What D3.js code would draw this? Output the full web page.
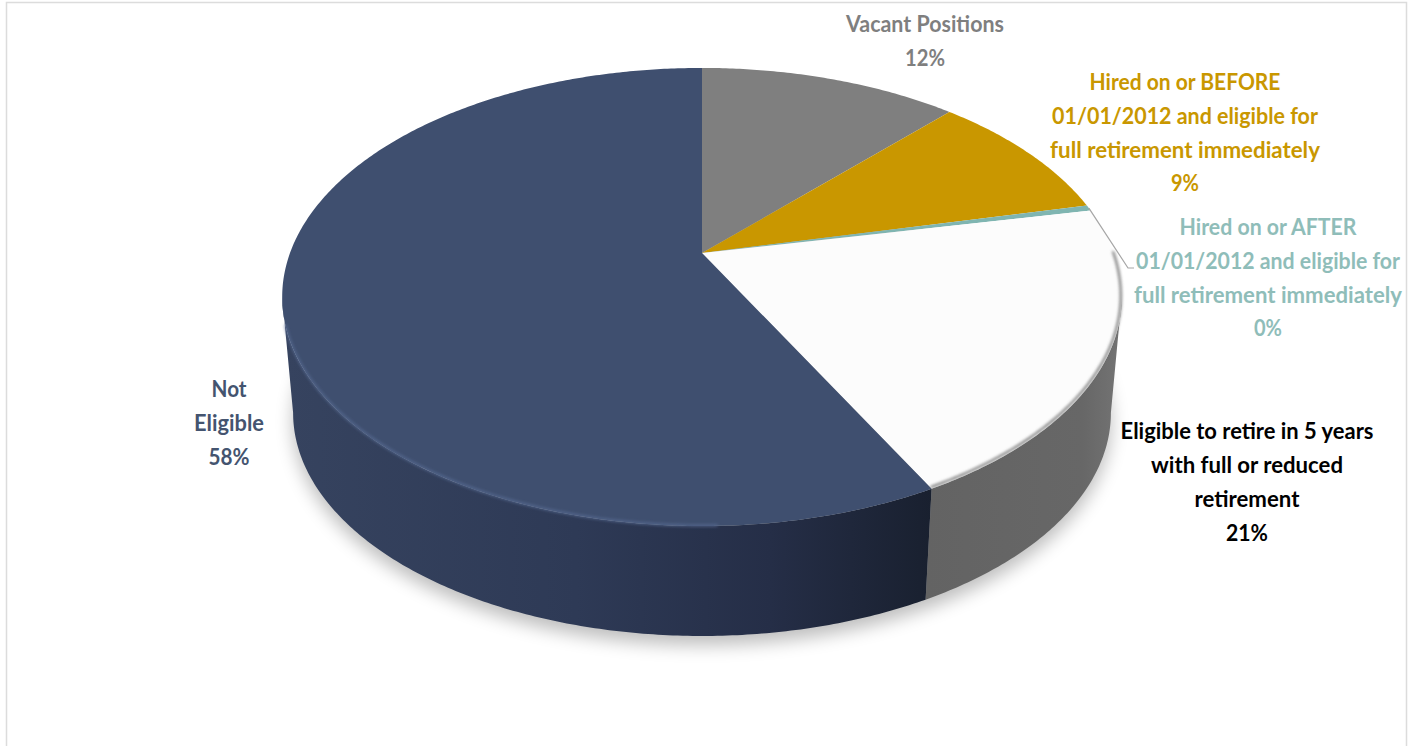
<!DOCTYPE html>
<html>
<head>
<meta charset="utf-8">
<script src="https://cdn.jsdelivr.net/npm/d3@7"></script>
<style>
  html, body { margin: 0; padding: 0; background: #fff; }
  svg { display: block; }
  text { font-family: Lato, "Open Sans", sans-serif; font-weight: 700; }
</style>
</head>
<body>
<svg id="chart" width="1413" height="746"></svg>
<script>
// Workforce retirement eligibility, as percentage shares clockwise from twelve o'clock.
const sliceNames = ["Vacant", "Before2012", "After2012", "FiveYears", "NotEligible"];
const sliceShares = [0.12, 0.094, 0.004, 0.2055, 0.5765];
const sliceLabels = [
  ["Vacant Positions"],
  ["Hired on or BEFORE", "01/01/2012 and eligible for", "full retirement immediately"],
  ["Hired on or AFTER", "01/01/2012 and eligible for", "full retirement immediately"],
  ["Eligible to retire in 5 years", "with full or reduced", "retirement"],
  ["Not", "Eligible"]
];

const topColors = ["#7f7f7f", "#c99700", "#7fb5b1", "#fcfcfc", "#3f4f6f"];
const textColors = ["#7f7f7f", "#c99700", "#8fbdb9", "#000000", "#44546f"];
const labelCentres = [[925, 23.5], [1185, 81.5], [1268, 226.5], [1247, 430.5], [229, 388.5]];
const labelLeading = 33.8;
// Set width of each printed line, share line last
const labelWidths = [
  [158, 40],
  [191, 266, 270, 28],
  [177, 264, 268, 28],
  [253, 192, 105, 42],
  [35, 70, 41]
];

const color = d3.scaleOrdinal().domain(sliceNames).range(topColors);
const inkColor = d3.scaleOrdinal().domain(sliceNames).range(textColors);
const percent = d3.format(".0%");

const svg = d3.select("#chart");
const defs = svg.append("defs");

// Perspective disc: far side compressed by the factor below, so the apex sits above the ellipse centre.
const foreshorten = 0.192;
const xScale = d3.scaleLinear().domain([-1, 1]).range([290, 1114]);
const yTop = d3.scaleLinear().domain([-1, 1]).range([473.6, 32.4]);
const yBottom = d3.scaleLinear().domain([-1, 1]).range([584.9, 155.1]);
const bottomShrink = 0.974;

function project(theta, level) {
  const u = Math.sin(theta), v = Math.cos(theta);
  const w = 1 + foreshorten * v;
  const xc = xScale(0);
  if (level === 0) {
    return [xScale(u / w), yTop(v / w)];
  }
  return [xc + (xScale(u / w) - xc) * bottomShrink, yBottom(v / w)];
}

function rim(a0, a1, level) {
  const n = Math.max(2, Math.ceil(Math.abs(a1 - a0) / 0.01));
  return d3.range(n + 1).map(i => project(a0 + (a1 - a0) * i / n, level));
}

const line = d3.line();
const pie = d3.pie().sort(null).value(d => d.share).startAngle(0).endAngle(2 * Math.PI);
const slices = pie(sliceNames.map((name, i) => ({ name, share: sliceShares[i], lines: sliceLabels[i] })));
const apex = [xScale(0), yTop(0)];

// Outer frame, open at the foot of the page
svg.append("path")
  .attr("d", "M6.5,746V2.5H1406.5V746")
  .attr("fill", "none").attr("stroke", "#dcdcdc").attr("stroke-width", 1.5);

// Filters and gradients
defs.append("filter").attr("id", "soft").attr("x", "-10%").attr("y", "-10%").attr("width", "120%").attr("height", "125%")
  .append("feGaussianBlur").attr("stdDeviation", 9);
defs.append("filter").attr("id", "edge").attr("filterUnits", "userSpaceOnUse")
  .attr("x", 0).attr("y", 0).attr("width", 1413).attr("height", 746)
  .append("feGaussianBlur").attr("stdDeviation", 1.5);

const navySide = defs.append("linearGradient").attr("id", "navySide")
  .attr("gradientUnits", "userSpaceOnUse").attr("x1", 285).attr("x2", 932).attr("y1", 0).attr("y2", 0);
[[0, "#36435f"], [0.45, "#2e3a56"], [0.75, "#252e47"], [1, "#19202f"]].forEach(([o, c]) =>
  navySide.append("stop").attr("offset", o).attr("stop-color", c));

const greySide = defs.append("linearGradient").attr("id", "greySide")
  .attr("gradientUnits", "userSpaceOnUse").attr("x1", 926).attr("x2", 1122).attr("y1", 0).attr("y2", 0);
[[0, "#636363"], [0.8, "#676767"], [1, "#747474"]].forEach(([o, c]) =>
  greySide.append("stop").attr("offset", o).attr("stop-color", c));

// Soft cast shadow under the disc
const wholeBottom = rim(0, 2 * Math.PI, 1);
svg.append("path")
  .attr("d", line(wholeBottom) + "Z")
  .attr("transform", "translate(0,9)")
  .attr("fill", "#000").attr("opacity", 0.26)
  .attr("filter", "url(#soft)");

// Visible wall runs between the two silhouette angles
const wallStart = Math.acos(-foreshorten);
const wallEnd = 2 * Math.PI - wallStart;
const wallSides = { FiveYears: "url(#greySide)", NotEligible: "url(#navySide)" };

svg.append("g").selectAll("path")
  .data(slices.filter(d => d.data.name in wallSides))
  .join("path")
  .attr("d", d => {
    const a0 = Math.max(d.startAngle, wallStart);
    const a1 = Math.min(d.endAngle, wallEnd);
    return line(rim(a0, a1, 0).concat(rim(a1, a0, 1))) + "Z";
  })
  .attr("fill", d => wallSides[d.data.name]);

// Top face
svg.append("g").selectAll("path")
  .data(slices)
  .join("path")
  .attr("d", d => line([apex].concat(rim(d.startAngle, d.endAngle, 0))) + "Z")
  .attr("fill", d => color(d.data.name));

// Bevel along the front rim: a dark blur on the white slice, a pale line on the navy one
const [fiveYears, notEligible] = [slices[3], slices[4]];
svg.append("path")
  .attr("d", line(rim(fiveYears.startAngle + 0.2, fiveYears.endAngle, 0).map(p => [p[0] - 1, p[1] - 1.5])))
  .attr("fill", "none").attr("stroke", "#666").attr("stroke-width", 2)
  .attr("filter", "url(#edge)");
svg.append("path")
  .attr("d", line(rim(notEligible.startAngle + 0.45, wallEnd - 0.12, 0).map(p => [p[0], p[1] - 0.5])))
  .attr("fill", "none").attr("stroke", "#566a92").attr("stroke-width", 2)
  .attr("filter", "url(#edge)");

// Leader from the thin teal slice to its label
const afterEdge = project((slices[2].startAngle + slices[2].endAngle) / 2, 0);
svg.append("path")
  .attr("d", d3.line()([afterEdge, [1128, 268], [1134, 268]]))
  .attr("fill", "none").attr("stroke", "#a6a6a6").attr("stroke-width", 1.2);

// Labels: descriptive lines, then the rounded share; each line is narrowed to its set width
const labelLines = slices.flatMap((d, i) =>
  d.data.lines.concat(percent(d.data.share)).map((t, j) => ({
    text: t,
    name: d.data.name,
    x: labelCentres[i][0],
    y: labelCentres[i][1] + j * labelLeading,
    width: labelWidths[i][j]
  })));

svg.append("g").selectAll("text")
  .data(labelLines)
  .join("text")
  .attr("text-anchor", "middle")
  .attr("dominant-baseline", "central")
  .attr("fill", d => inkColor(d.name))
  .attr("font-size", 23)
  .text(d => d.text)
  .attr("transform", function (d) {
    const squeeze = d.width / this.getComputedTextLength();
    return `translate(${d.x},${d.y}) scale(${squeeze},1)`;
  });
</script>
</body>
</html>
